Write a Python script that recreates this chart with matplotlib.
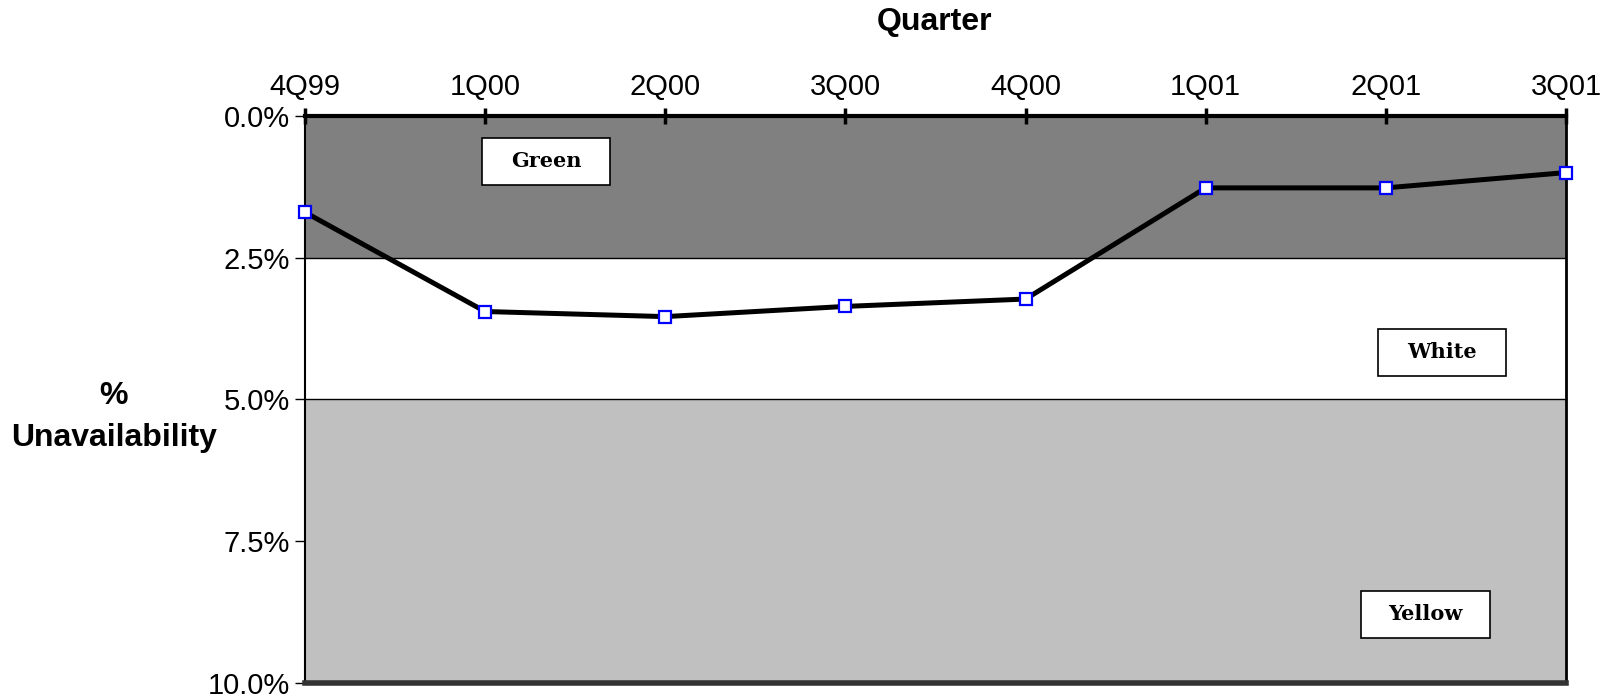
import matplotlib.pyplot as plt
import matplotlib.patches as patches
from matplotlib.ticker import FuncFormatter

quarters = ['4Q99', '1Q00', '2Q00', '3Q00', '4Q00', '1Q01', '2Q01', '3Q01']
unavail = [1.70, 3.45, 3.54, 3.36, 3.23, 1.27, 1.27, 1.00]

# colour bands
bands = [(0.0, 2.5, '#808080'), (2.5, 5.0, '#ffffff'), (5.0, 10.0, '#c0c0c0')]
band_labels = ['Green', 'White', 'Yellow']
label_x = [1.34, 6.31, 6.22]
label_y = [0.80, 4.17, 8.79]

plt.rcParams['font.family'] = ['Liberation Sans', 'DejaVu Sans']

fig = plt.figure(figsize=(16.23, 6.95), dpi=100)
ax = fig.add_axes([0.1879, 0.0173, 0.7770, 0.8160])

x = list(range(len(quarters)))
for lo, hi, col in bands:
    ax.axhspan(lo, hi, color=col, zorder=0, lw=0)
for lo, hi, col in bands[:-1]:
    ax.axhline(hi, color='black', lw=1.0, zorder=1)

ax.plot(x, unavail, color='black', lw=3.6, zorder=3, marker='s', markersize=9,
        markerfacecolor='white', markeredgecolor='#0000ff', markeredgewidth=1.6,
        clip_on=False)

bw, bh = 0.711, 0.825
for lab, lx, ly in zip(band_labels, label_x, label_y):
    ax.add_patch(patches.Rectangle((lx - bw / 2, ly - bh / 2), bw, bh, facecolor='white',
                                   edgecolor='black', lw=1.2, zorder=4))
    ax.text(lx, ly, lab, ha='center', va='center', fontsize=15, fontweight='bold',
            family='DejaVu Serif', zorder=5)

ax.set_xlim(0, 7)
ax.set_ylim(10, 0)
ax.set_xticks(x)
ax.set_xticklabels(quarters)
ax.xaxis.tick_top()
ax.tick_params(axis='x', direction='inout', length=12, width=2.5, labelsize=21, pad=5)
ax.set_yticks([0, 2.5, 5, 7.5, 10])
ax.yaxis.set_major_formatter(FuncFormatter(lambda v, p: '%.1f%%' % v))
ax.tick_params(axis='y', direction='out', length=7, width=1, labelsize=21, pad=4)

ax.spines['top'].set_linewidth(3)
ax.spines['left'].set_linewidth(1.5)
ax.spines['right'].set_linewidth(2)
ax.spines['bottom'].set_linewidth(4)
ax.spines['bottom'].set_color('#333333')

fig.text(0.576, 0.968, 'Quarter', ha='center', va='center', fontsize=23, fontweight='bold')
fig.text(0.07, 0.40, '%\nUnavailability', ha='center', va='center', fontsize=23,
         fontweight='bold', linespacing=1.55)

plt.savefig('out.png')
